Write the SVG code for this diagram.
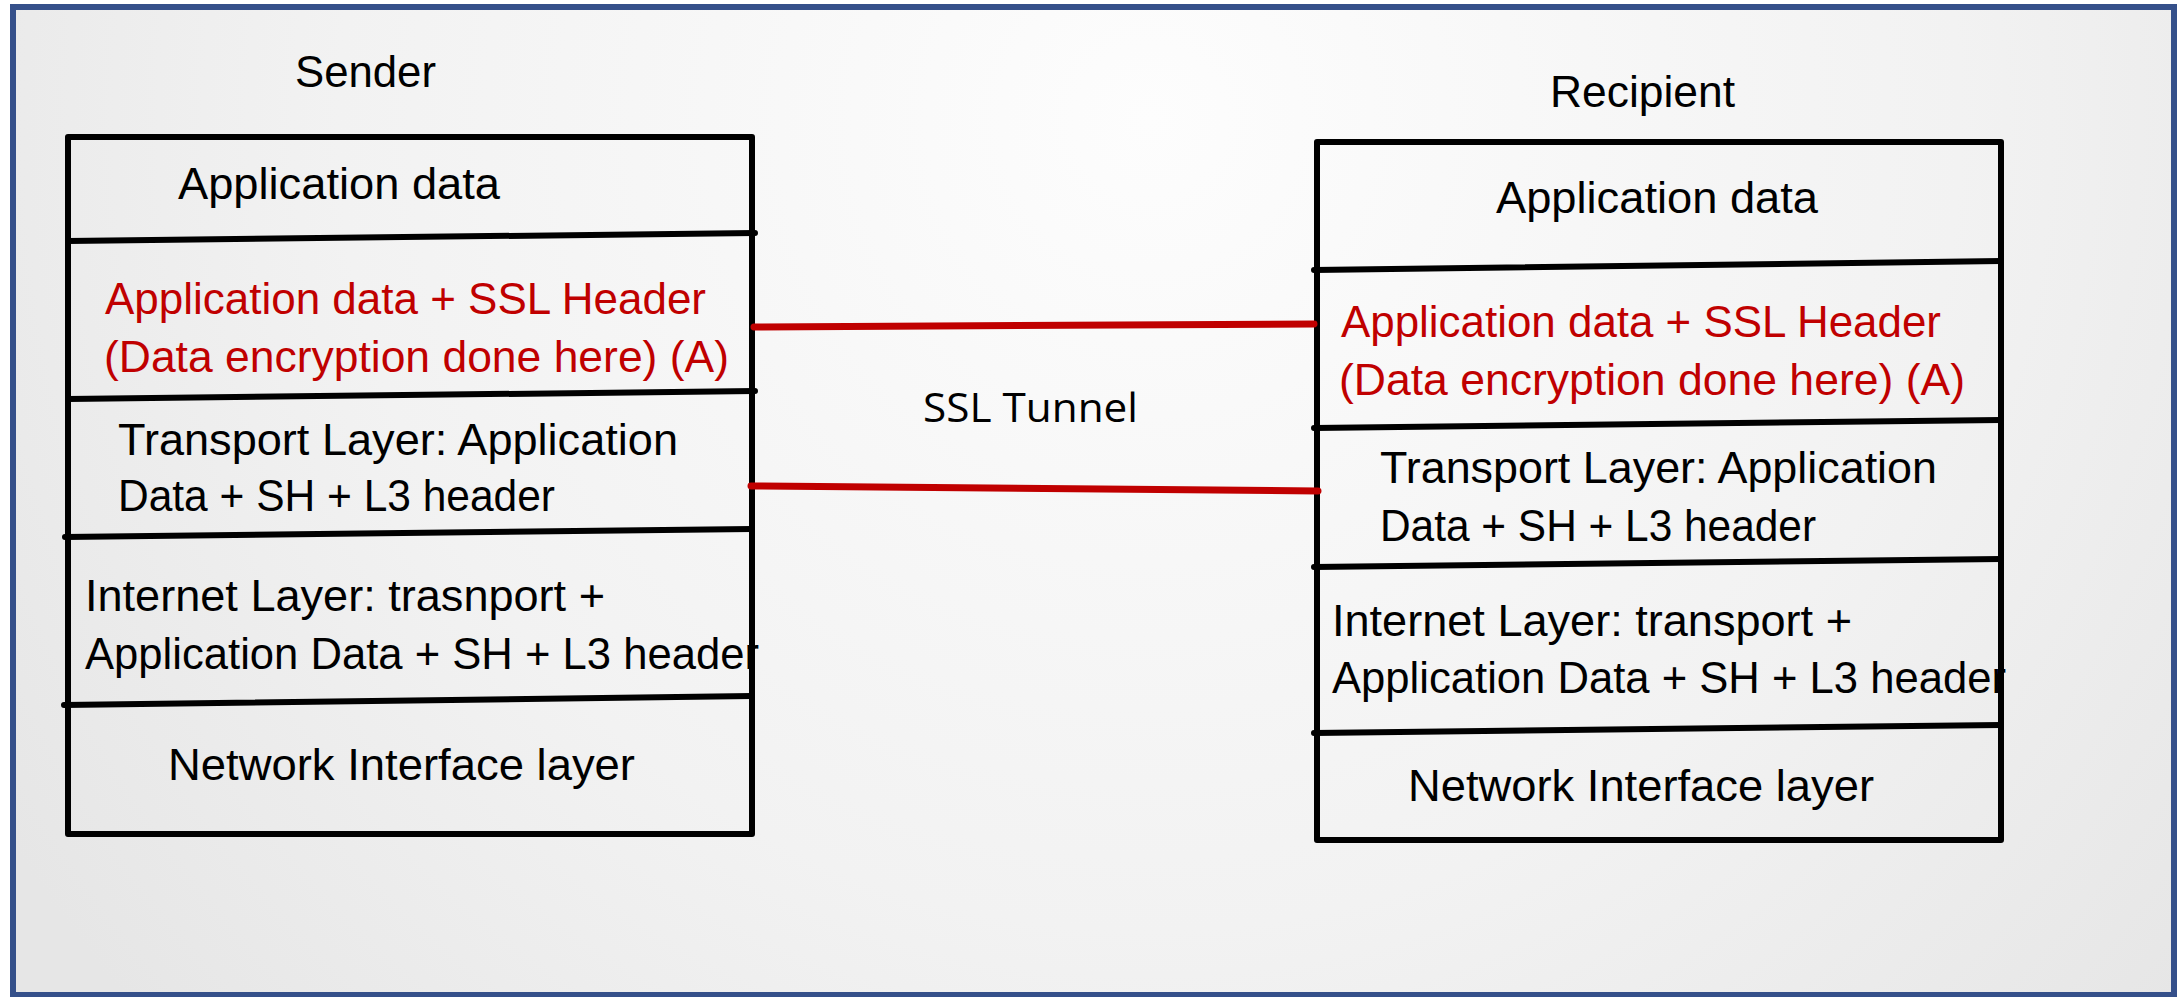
<svg xmlns="http://www.w3.org/2000/svg" width="2184" height="997" viewBox="0 0 2184 997">
  <defs>
    <radialGradient id="bg" gradientUnits="userSpaceOnUse" cx="1150" cy="120" r="1350">
      <stop offset="0" stop-color="#FDFDFD"/>
      <stop offset="0.6" stop-color="#F2F2F2"/>
      <stop offset="1" stop-color="#E6E6E6"/>
    </radialGradient>
  </defs>
  <style>
    .t { font-family: "Liberation Sans", Arial, sans-serif; font-size: 45px; fill: #000; }
    .r { fill: #C00000; }
    .box { fill: none; stroke: #000; stroke-width: 6; stroke-linejoin: round; }
    .div { stroke: #000; stroke-width: 6; stroke-linecap: round; fill: none; }
    .tun { stroke: #C00000; stroke-width: 7; stroke-linecap: round; fill: none; }
  </style>
  <rect x="0" y="0" width="2184" height="997" fill="#FFFFFF"/>
  <rect id="frame" x="13" y="7" width="2161" height="988" fill="url(#bg)" stroke="#35508A" stroke-width="6"/>

  <g id="sender">
    <text class="t" x="295" y="87" textLength="141" lengthAdjust="spacingAndGlyphs">Sender</text>
    <text class="t" x="178" y="199" textLength="322" lengthAdjust="spacingAndGlyphs">Application data</text>
    <text class="t r" x="105" y="314" textLength="601" lengthAdjust="spacingAndGlyphs">Application data + SSL Header</text>
    <text class="t r" x="104" y="372" textLength="625" lengthAdjust="spacingAndGlyphs">(Data encryption done here) (A)</text>
    <text class="t" x="118" y="455" textLength="560" lengthAdjust="spacingAndGlyphs">Transport Layer: Application</text>
    <text class="t" x="118" y="511" textLength="437" lengthAdjust="spacingAndGlyphs">Data + SH + L3 header</text>
    <text class="t" x="85" y="611" textLength="520" lengthAdjust="spacingAndGlyphs">Internet Layer: trasnport +</text>
    <text class="t" x="85" y="669" textLength="674" lengthAdjust="spacingAndGlyphs">Application Data + SH + L3 header</text>
    <text class="t" x="168" y="780" textLength="467" lengthAdjust="spacingAndGlyphs">Network Interface layer</text>
    <rect class="box" x="68" y="137" width="684" height="697"/>
    <line class="div" x1="68" y1="241" x2="755" y2="233"/>
    <line class="div" x1="68" y1="399" x2="755" y2="391"/>
    <line class="div" x1="65" y1="537" x2="752" y2="529"/>
    <line class="div" x1="64" y1="705" x2="752" y2="696"/>
  </g>

  <g id="recipient">
    <text class="t" x="1550" y="107" textLength="185" lengthAdjust="spacingAndGlyphs">Recipient</text>
    <text class="t" x="1496" y="213" textLength="322" lengthAdjust="spacingAndGlyphs">Application data</text>
    <text class="t r" x="1341" y="337" textLength="600" lengthAdjust="spacingAndGlyphs">Application data + SSL Header</text>
    <text class="t r" x="1339" y="395" textLength="626" lengthAdjust="spacingAndGlyphs">(Data encryption done here) (A)</text>
    <text class="t" x="1380" y="483" textLength="557" lengthAdjust="spacingAndGlyphs">Transport Layer: Application</text>
    <text class="t" x="1380" y="541" textLength="436" lengthAdjust="spacingAndGlyphs">Data + SH + L3 header</text>
    <text class="t" x="1332" y="636" textLength="520" lengthAdjust="spacingAndGlyphs">Internet Layer: transport +</text>
    <text class="t" x="1332" y="693" textLength="674" lengthAdjust="spacingAndGlyphs">Application Data + SH + L3 header</text>
    <text class="t" x="1408" y="801" textLength="466" lengthAdjust="spacingAndGlyphs">Network Interface layer</text>
    <rect class="box" x="1317" y="142" width="684" height="698"/>
    <line class="div" x1="1314" y1="270" x2="2001" y2="261"/>
    <line class="div" x1="1314" y1="428" x2="2001" y2="420"/>
    <line class="div" x1="1314" y1="567" x2="2001" y2="559"/>
    <line class="div" x1="1314" y1="733" x2="2001" y2="725"/>
  </g>

  <g id="tunnel-label">
    <text x="923" y="422" style="font-family: 'Open Sans', 'DejaVu Sans', sans-serif; font-size: 41px; fill: #000;" textLength="215" lengthAdjust="spacingAndGlyphs">SSL Tunnel</text>
  </g>

  <g id="connectors">
    <line class="tun" x1="754" y1="327" x2="1314" y2="324"/>
    <line class="tun" x1="751" y1="486" x2="1318" y2="491"/>
  </g>
</svg>
